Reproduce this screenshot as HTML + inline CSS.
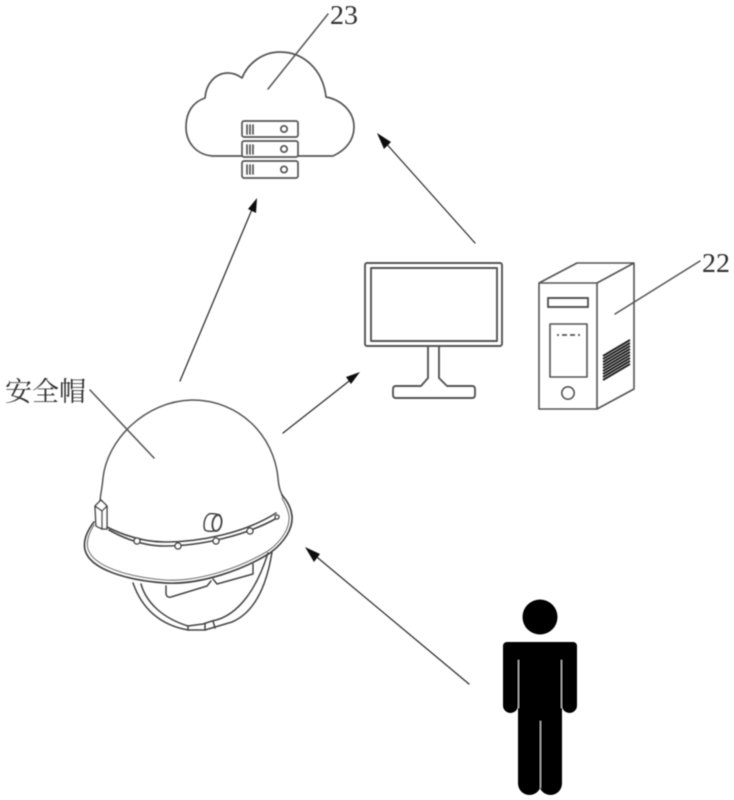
<!DOCTYPE html>
<html><head><meta charset="utf-8">
<style>
html,body{margin:0;padding:0;background:#fff;width:734px;height:800px;overflow:hidden}
svg{display:block}
text{fill:#333}
</style></head>
<body>
<svg width="734" height="800" viewBox="0 0 734 800" xmlns="http://www.w3.org/2000/svg">
<defs><filter id="b" x="-2%" y="-2%" width="104%" height="104%"><feGaussianBlur stdDeviation="0.45"/></filter></defs>
<g filter="url(#b)" fill="none" stroke="#444" stroke-width="1.500" stroke-linejoin="round" stroke-linecap="round">
<!-- cloud -->
<path d="M242 156H213C196 155 186 142 186 127C186 112 193 102 205 98C206 84 215 73 228 73C233 73 238 75 242 78C248 63 263 52 280 52C304 52 323 70 326 97C342 100 354 112 354 127C354 140 346 150 333 156H298" stroke="#555" stroke-width="1.700"/>
<line x1="328" y1="14" x2="268" y2="89" stroke="#555"/>
<!-- servers -->
<g stroke="#555" stroke-width="1.700">
<rect x="242" y="121" width="56" height="16" rx="2"/>
<rect x="242" y="141" width="56" height="16" rx="2"/>
<rect x="242" y="161" width="56" height="17" rx="2"/>
<circle cx="284" cy="129" r="3.200"/><circle cx="284" cy="149" r="3.200"/><circle cx="284" cy="169.500" r="3.200"/>
<path d="M247 125v9M250 125v9M253 125v9M247 145v9M250 145v9M253 145v9M247 165v9M250 165v9M253 165v9"/>
</g>
<!-- monitor -->
<g stroke="#555" stroke-width="1.900">
<rect x="365" y="263" width="137" height="83" rx="2"/>
<rect x="371" y="268" width="126" height="73"/>
<path d="M428 346V378L421 386H396Q393 386 393 389V395Q393 398 396 398H472Q475 398 475 395V389Q475 386 472 386H447L439 378V346"/>
</g>
<!-- tower -->
<g stroke="#555" stroke-width="1.600">
<path d="M539 283H597V409H539ZM539 283L577 263H634L597 283M634 263V389L597 409"/>
<rect x="548" y="298" width="40" height="9" stroke-width="1.900"/>
<rect x="550" y="324" width="37" height="53"/>
<circle cx="568" cy="393" r="6.200"/>
<path d="M557 335H581" stroke-dasharray="2 3 5 3 5 3 2" stroke-linecap="butt" stroke-width="1.800"/>
</g>
<path d="M603 356L630 340M603 359L630 343M603 362L630 346M603 365L630 349M603 368L630 352M603 371L630 355M603 374L630 358M603 377L630 361M603 380L630 364" stroke="#222" stroke-width="1.900" stroke-linecap="butt"/>
<line x1="700" y1="261" x2="615" y2="314" stroke="#555"/>
<!-- helmet dome -->
<path d="M100 502C100 496 102 490 103 478C107 440 145 401 192 400C240 400 274 436 278 478C279 490 281 492 283 497" stroke="#555" stroke-width="1.500"/>
<line x1="90" y1="390" x2="154" y2="458" stroke="#555"/>
<!-- brim -->
<path d="M94 522C87 531 83 541 85 550C90 569 125 580 165 583C200 585 243 570 270 553C285 542 293 528 292 516C291 507 287 501 282 495" stroke="#444" stroke-width="1.700"/>
<path d="M94 525C89 533 86 542 88 549C93 566 127 577 165 580C200 582 241 567 268 551C283 540 290 527 289 516C288 509 285 504 282 498" stroke="#777" stroke-width="1.100"/>
<!-- clip -->
<path d="M95 506L101 500L107 506V529L102 529L96 526ZM95 506L102 511V529M107 506L102 511" fill="#fff"/>
<!-- band -->
<path d="M109 530C125 539 145 546 165 546C200 546 245 536 277 518" stroke-width="1.600"/>
<path d="M107 527C125 536 145 542 165 542C200 542 245 533 276 513" stroke-width="1.600"/>
<g fill="#fff"><circle cx="137" cy="541" r="3"/><circle cx="178" cy="546" r="3"/><circle cx="216" cy="541" r="3"/><circle cx="250" cy="531" r="3"/><circle cx="277" cy="517" r="2"/></g>
<!-- knob -->
<path d="M209 514C204 517 203 526 205 530C207 532 212 531 215 531M209 514C212 513 216 514 220 515"/>
<ellipse cx="217" cy="523" rx="4.500" ry="8" transform="rotate(10 217 523)" stroke-width="1.800"/>
<!-- strap -->
<path d="M133 583C140 603 155 624 188 630H205L232 622C253 613 266 590 272 552"/>
<path d="M141 584C146 602 162 618 188 626L203 624L212 621C240 616 258 585 268 553"/>
<path d="M188 626V630M205 624V630M213 621L215 628"/>
<path d="M166 586V594Q167 598 171 597L207 586L211 581M213 579L217 584L253 574V564"/>
<!-- arrows -->
<g stroke="#333" stroke-width="1.300">
<line x1="180" y1="381" x2="253" y2="207"/>
<line x1="283" y1="433" x2="353" y2="378"/>
<line x1="475" y1="243" x2="383" y2="140"/>
<line x1="469" y1="684" x2="312" y2="553"/>
</g>
</g>
<g filter="url(#b)" fill="#111">
<polygon points="257,198 256,213 248,209"/>
<polygon points="360,372 351,384 346,377"/>
<polygon points="377,133 391,142 384,149"/>
<polygon points="305,547 320,554 314,562"/>
<!-- person -->
<circle cx="540" cy="617" r="17.500" fill="#000"/>
<g fill="#000">
<rect x="503" y="642" width="74" height="20" rx="4"/>
<rect x="503" y="642" width="15" height="71" rx="7.500"/>
<rect x="562" y="642" width="15" height="71" rx="7.500"/>
<rect x="518" y="642" width="44" height="90"/>
<rect x="518" y="700" width="23" height="95" rx="11.500"/>
<rect x="539" y="700" width="23" height="95" rx="11.500"/>
</g>
<path d="M518.500 660V708M561.500 660V708M540.500 721V788" stroke="#bbb" stroke-width="1.100"/>
</g>
<g filter="url(#b)">
<text x="330" y="24" font-family="'Liberation Serif',serif" font-size="27" textLength="28" lengthAdjust="spacingAndGlyphs">23</text>
<text x="702" y="272" font-family="'Liberation Serif',serif" font-size="27" textLength="28" lengthAdjust="spacingAndGlyphs">22</text>
<text x="5" y="401" font-family="'Liberation Serif','Noto Serif CJK SC',serif" font-size="27">安全帽</text>
</g>
</svg>
</body></html>
